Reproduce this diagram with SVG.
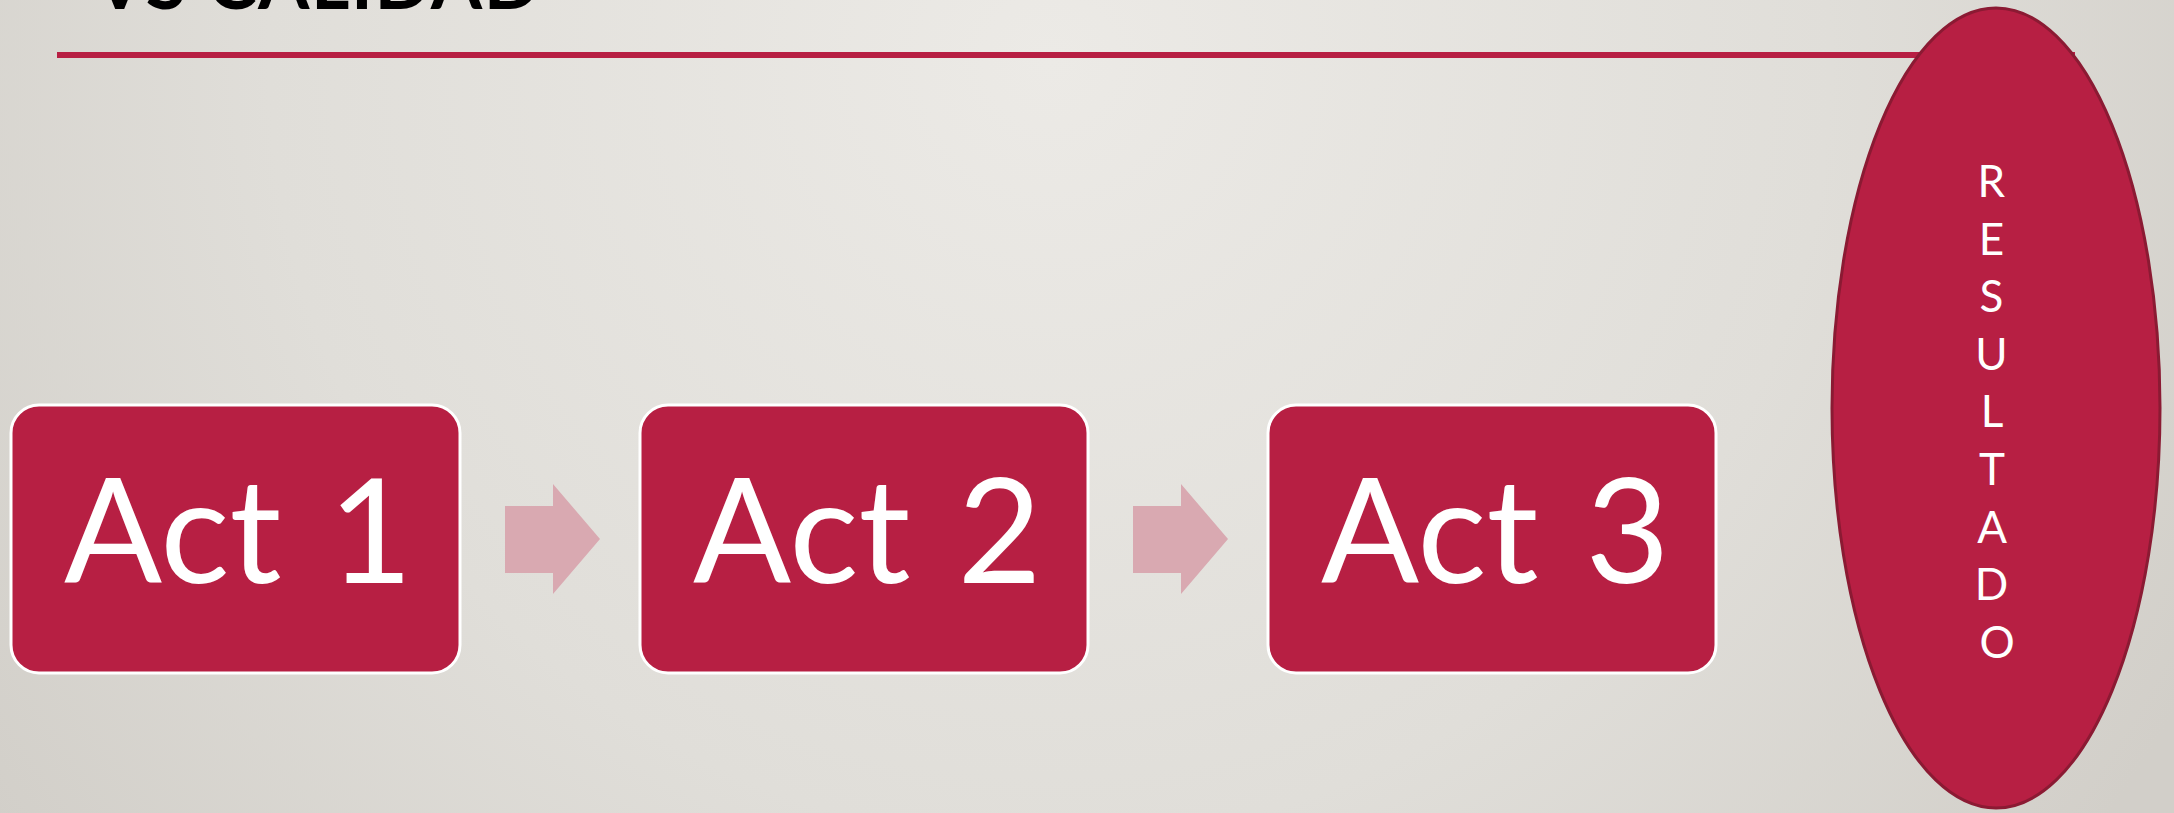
<svg xmlns="http://www.w3.org/2000/svg" width="2174" height="813" viewBox="0 0 2174 813">
  <defs>
    <radialGradient id="bg" cx="1050" cy="60" r="1300" gradientUnits="userSpaceOnUse">
      <stop offset="0" stop-color="#ECEAE6"/>
      <stop offset="0.6" stop-color="#E0DED9"/>
      <stop offset="1" stop-color="#D2CFC9"/>
    </radialGradient>
    <style>
      .box { fill: #B71F43; stroke: #FFFFFF; stroke-width: 3; }
      .act { font-family: Lato, "Open Sans", sans-serif; font-size: 145px; fill: #FFFFFF; word-spacing: 10px; }
      .arrow { fill: #D9A9B1; }
      .title { font-family: Lato, "Liberation Sans", sans-serif; font-size: 74px; font-weight: bold; fill: #000000; }
      .res { font-family: Lato, "Open Sans", sans-serif; font-size: 44px; fill: #FFFFFF; text-anchor: middle; }
    </style>
  </defs>
  <rect x="0" y="0" width="2174" height="813" fill="url(#bg)"/>
  <text class="title" x="94" y="9" textLength="446" lengthAdjust="spacing">VS CALIDAD</text>
  <rect x="57" y="52" width="2018" height="6" fill="#B71F43"/>

  <g id="act1">
    <rect class="box" x="11" y="405" width="449" height="268" rx="28" ry="28"/>
    <text class="act" x="64" y="583">Act 1</text>
  </g>
  <g id="act2">
    <rect class="box" x="640" y="405" width="448" height="268" rx="28" ry="28"/>
    <text class="act" x="693" y="583">Act 2</text>
  </g>
  <g id="act3">
    <rect class="box" x="1268" y="405" width="448" height="268" rx="28" ry="28"/>
    <text class="act" x="1321" y="583">Act 3</text>
  </g>

  <g id="connectors">
    <polygon class="arrow" points="505,506 553,506 553,484 600,539 553,594 553,573 505,573"/>
    <polygon class="arrow" points="1133,506 1181,506 1181,484 1228,539 1181,594 1181,573 1133,573"/>
  </g>

  <g id="resultado">
    <ellipse cx="1996" cy="408" rx="164" ry="400" fill="#B71F43" stroke="#8B1A33" stroke-width="3"/>
    <text class="res">
      <tspan x="1997" y="197">R</tspan>
      <tspan x="1997" y="254.6">E</tspan>
      <tspan x="1997" y="312.2">S</tspan>
      <tspan x="1997" y="369.8">U</tspan>
      <tspan x="1997" y="427.4">L</tspan>
      <tspan x="1997" y="485">T</tspan>
      <tspan x="1997" y="542.6">A</tspan>
      <tspan x="1997" y="600.2">D</tspan>
      <tspan x="1997" y="657.8">O</tspan>
    </text>
  </g>
</svg>
